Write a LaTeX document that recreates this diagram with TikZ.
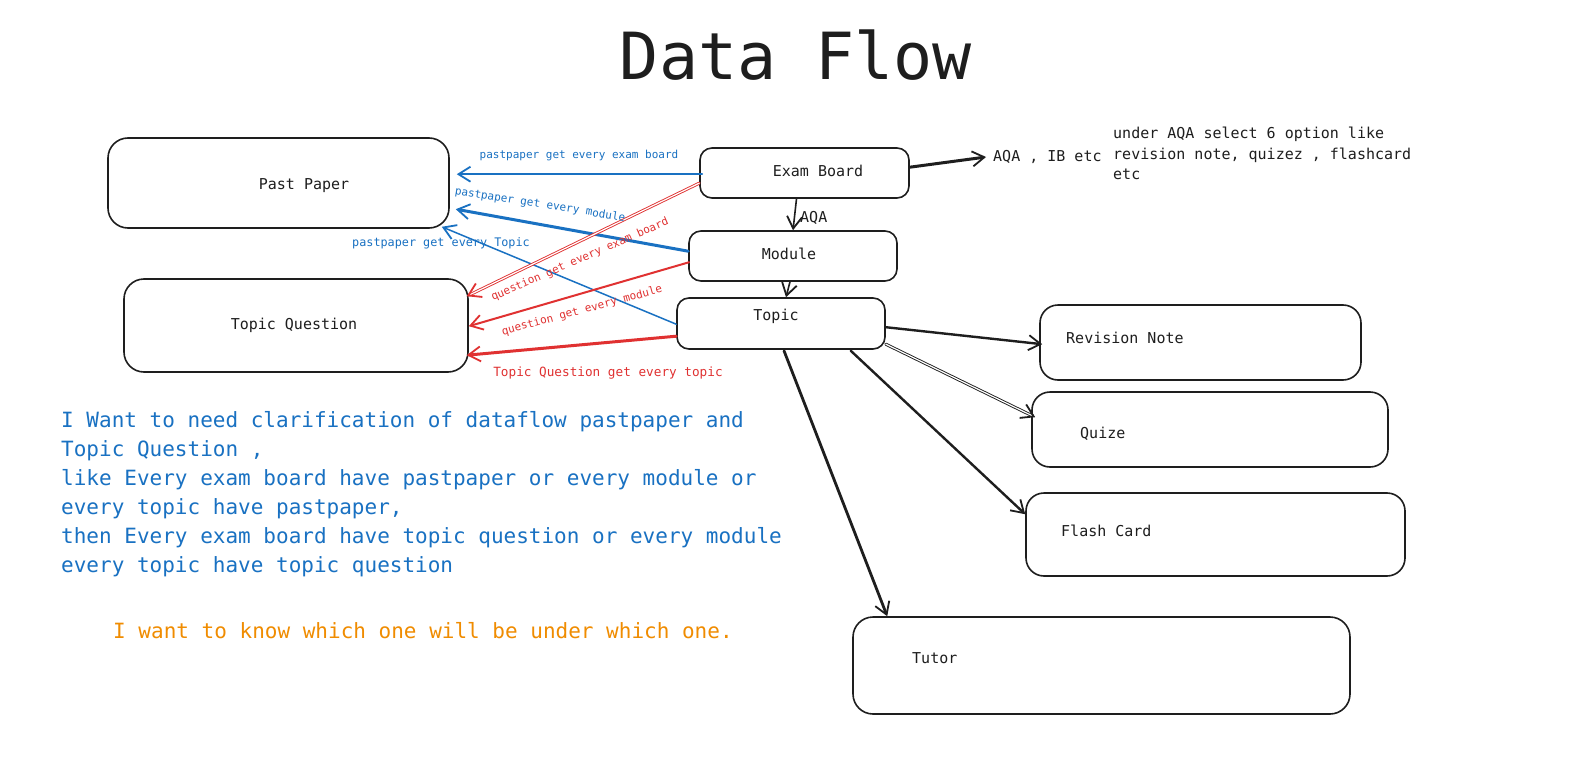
\documentclass[tikz,border=0pt]{standalone}
\usepackage{fontspec}
\setmainfont{DejaVu Sans Mono}
\usetikzlibrary{arrows.meta,calc}
\definecolor{ink}{HTML}{1E1E1E}
\definecolor{eblue}{HTML}{1971C2}
\definecolor{ered}{HTML}{E03131}
\definecolor{eorange}{HTML}{F08C00}
\newcommand\fsz[2]{\fontsize{#1}{#2}\selectfont}
\begin{document}
\begin{tikzpicture}[x=1pt,y=-1pt,
  box/.style={draw=ink, line width=1.6pt, rounded corners=#1, inner sep=0pt},
  box/.default=14pt,
  lbl/.style={inner sep=0pt, text=ink, font=\fsz{15}{18}, text height=11.25pt, text depth=3.75pt},
  elbl/.style={inner sep=0pt, font=\fsz{11}{13}, text height=8.25pt, text depth=2.75pt},
  barbtip/.style={-{Straight Barb[length=12pt,width=15pt,line width=1.8pt]}},
  conn/.style={barbtip, draw=ink, line width=#1, line cap=round, line join=round},
  conn/.default=2pt,
  bconn/.style={barbtip, draw=eblue, line width=#1, line cap=round},
  rconn/.style={barbtip, draw=ered, line width=#1, line cap=round},
]
\fill[white] (0,0) rectangle (1594,757);
\useasboundingbox (0,0) rectangle (1594,757);

% title
\node[inner sep=0pt, text=ink, font=\fsz{65}{70}] (title) at (796,55) {Data Flow};

% boxes
\node[box=20pt, minimum width=341pt, minimum height=90pt] (pp) at (278.5,183) {};
\node[box=20pt, minimum width=344pt, minimum height=93pt] (tq) at (296,325.5) {};
\node[box=12pt, minimum width=209pt, minimum height=50pt] (eb) at (804.5,173) {};
\node[box=12pt, minimum width=208pt, minimum height=50pt] (mod) at (793,256) {};
\node[box=12pt, minimum width=208pt, minimum height=51pt] (top) at (781,323.5) {};
\node[box=18pt, minimum width=321pt, minimum height=75pt] (rn) at (1200.5,342.5) {};
\node[box=18pt, minimum width=356pt, minimum height=75pt] (qz) at (1210,429.5) {};
\node[box=18pt, minimum width=379pt, minimum height=83pt] (fc) at (1215.5,534.5) {};
\node[box=20pt, minimum width=497pt, minimum height=97pt] (tu) at (1101.5,665.5) {};

% box labels
\node[lbl] (ppl) at (304,186) {Past Paper};
\node[lbl] (tql) at (294,326) {Topic Question};
\node[lbl] (ebl) at (818,173) {Exam Board};
\node[lbl] (modl) at (789,256) {Module};
\node[lbl] (topl) at (776,317) {Topic};
\node[lbl, anchor=west] (rnl) at (1066,340) {Revision Note};
\node[lbl, anchor=west] (qzl) at (1080,435) {Quize};
\node[lbl, anchor=west] (fcl) at (1061,533) {Flash Card};
\node[lbl, anchor=west] (tul) at (912,660) {Tutor};

% side notes
\node[lbl, anchor=west] (aqa) at (993,158) {AQA , IB etc};
\node[inner sep=0pt, text=ink, font=\fsz{15}{20.5}, align=left, anchor=north west] (note) at (1113,127)
  {under AQA select 6 option like\\revision note, quizez , flashcard\\etc};

% blue arrows (past paper)
\draw[bconn=2pt] ($(eb.north west)+(3,27)$) -- ($(pp.north east)+(7,37)$);
\draw[bconn=3pt] ($(mod.north west)+(0,21)$) -- ($(pp.north east)+(6,72)$);
\draw[bconn=1.5pt] ($(top.north west)+(0,27)$) -- ($(pp.south east)+(-8,-2)$);

% red arrows (topic question)
\draw[rconn=0.9pt, double=white, double distance=1.2pt] ($(eb.north west)+(0,36)$) -- ($(tq.north east)+(-2,18)$);
\draw[rconn=2pt] ($(mod.north west)+(1,32)$) -- ($(tq.north east)+(0,48)$);
\draw[rconn=3pt] ($(top.north west)+(0,39)$) -- ($(tq.north east)+(-2,77)$);

% edge labels
\node[elbl, text=eblue] (l1) at (579,156) {pastpaper get every exam board};
\node[elbl, text=eblue, rotate=-9] (l2) at (540,205) {pastpaper get every module};
\node[elbl, text=eblue, font=\fsz{11.8}{14}] (l3) at (441,244) {pastpaper get every Topic};
\node[elbl, text=ered, rotate=23.5] (l4) at (580,260) {question get every exam board};
\node[elbl, text=ered, rotate=15] (l5) at (582,311) {question get every module};
\node[elbl, text=ered, font=\fsz{12.7}{15}] (l6) at (608,374) {Topic Question get every topic};

% black arrows
\draw[conn=3pt] ($(eb.north east)+(0,20)$) -- ($(aqa.west)+(-7,-1)$);
\draw[conn=1.6pt] ($(eb.south)+(-8,0)$) -- (mod.north);
\node[lbl, anchor=west] (aqal) at (800,219) {AQA};
\draw[conn=1.6pt] ($(mod.south)+(-3,0)$) -- ($(top.north)+(5,0)$);
\draw[conn=2.4pt] ($(top.north east)+(0,30)$) -- ($(rn.north west)+(3,40)$);
\draw[conn=0.9pt, double=white, double distance=1.2pt] ($(top.north east)+(0,47)$) -- ($(qz.north west)+(4,26)$);
\draw[conn=2.4pt] ($(top.south east)+(-35,1)$) -- ($(fc.north west)+(0,22)$);
\draw[conn=2.8pt] ($(top.south)+(3,1)$) -- ($(tu.north west)+(35,0)$);

% paragraphs
\node[inner sep=0pt, text=eblue, font=\fsz{21}{29}, align=left, anchor=north west] (para) at (61,411)
  {I Want to need clarification of dataflow pastpaper and\\
   Topic Question ,\\
   like Every exam board have pastpaper or every module or\\
   every topic have pastpaper,\\
   then Every exam board have topic question or every module\\
   every topic have topic question};
\node[inner sep=0pt, text=eorange, font=\fsz{21}{29}, anchor=base west] (ask) at (113,638)
  {I want to know which one will be under which one.};
\end{tikzpicture}
\end{document}
